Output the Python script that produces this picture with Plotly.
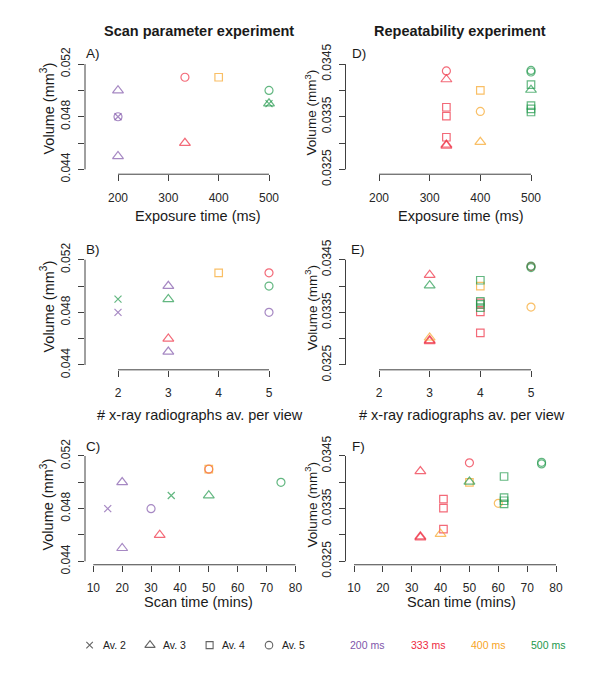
import plotly.graph_objects as go

# ---------------- data: scan parameter experiment ----------------
scan_exposure = [200, 200, 200, 200, 333, 333, 400, 500, 500, 500]
scan_averages = [2, 3, 3, 5, 3, 5, 4, 2, 3, 5]
scan_time = [15, 20, 20, 30, 33, 50, 50, 37, 50, 75]
scan_volume = [0.048, 0.050, 0.045, 0.048, 0.046, 0.051, 0.051, 0.049, 0.049, 0.050]

# ---------------- data: repeatability experiment ----------------
rep_exposure = [333, 333, 333, 333, 333, 333, 333, 400, 400, 400,
                500, 500, 500, 500, 500, 500, 500]
rep_averages = [3, 3, 3, 4, 4, 4, 5, 3, 4, 5,
                3, 4, 4, 4, 4, 5, 5]
rep_time = [33, 33, 33, 41, 41, 41, 50, 40, 50, 60,
            50, 62, 62, 62, 62, 75, 75]
rep_volume = [0.03421, 0.03297, 0.03295, 0.03368, 0.03351, 0.03311, 0.03437,
              0.03302, 0.03400, 0.03360,
              0.03401, 0.03411, 0.03371, 0.03365, 0.03359, 0.03438, 0.03435]

# ---------------- tick labels ----------------
exposure_ticks = [200, 300, 400, 500]
averages_ticks = [2, 3, 4, 5]
time_ticks = [10, 20, 30, 40, 50, 60, 70, 80]
scan_vol_ticks = [0.044, 0.046, 0.048, 0.050, 0.052]
scan_vol_text = ["0.044", "", "0.048", "", "0.052"]
rep_vol_ticks = [0.0325, 0.0330, 0.0335, 0.0340, 0.0345]
rep_vol_text = ["0.0325", "", "0.0335", "", "0.0345"]

legend_av_labels = ["Av. 2", "Av. 3", "Av. 4", "Av. 5"]
legend_av_values = [2, 3, 4, 5]
legend_ms_labels = ["200 ms", "333 ms", "400 ms", "500 ms"]
legend_ms_values = [200, 333, 400, 500]

# ---------------- styles ----------------
COLORS = {200: "#8056AA", 333: "#EE2B3E", 400: "#F7A425", 500: "#21984B"}
SYMBOLS = {2: "x-thin-open", 3: "triangle-up-open", 4: "square-open", 5: "circle-open"}
SIZES = {2: 7, 3: 9.5, 4: 7.5, 5: 8}
FONT = "Liberation Sans, Arial, sans-serif"
AXC = "#404040"

W, H = 600, 676


def fx(p):
    return p / W


def fy(p):
    return 1 - p / H


def extend(v0, v1, p0, p1, d0, d1):
    """values at pixel positions d0, d1 given v0<->p0 and v1<->p1"""
    s = (v1 - v0) / (p1 - p0)
    return [v0 + (d0 - p0) * s, v0 + (d1 - p0) * s]


fig = go.Figure()

# pixel layout: xd = pixels of first/last x tick, yd = pixels of top/bottom y tick,
# yl = x pixel of the y-axis line, xl = y pixel of the x-axis line
panel_defs = [
    dict(n=1, x=scan_exposure, y=scan_volume, e=scan_exposure, a=scan_averages,
         xt=exposure_ticks, yt=scan_vol_ticks, ytt=scan_vol_text,
         xd=(118, 269), yd=(56, 165), yl=85, xl=170),
    dict(n=2, x=scan_averages, y=scan_volume, e=scan_exposure, a=scan_averages,
         xt=averages_ticks, yt=scan_vol_ticks, ytt=scan_vol_text,
         xd=(118, 269), yd=(258.5, 367.5), yl=85, xl=372.5),
    dict(n=3, x=scan_time, y=scan_volume, e=scan_exposure, a=scan_averages,
         xt=time_ticks, yt=scan_vol_ticks, ytt=scan_vol_text,
         xd=(93.3, 295.4), yd=(461.7, 570.7), yl=85, xl=574.3),
    dict(n=4, x=rep_exposure, y=rep_volume, e=rep_exposure, a=rep_averages,
         xt=exposure_ticks, yt=rep_vol_ticks, ytt=rep_vol_text,
         xd=(379, 531), yd=(56, 165), yl=345.5, xl=170),
    dict(n=5, x=rep_averages, y=rep_volume, e=rep_exposure, a=rep_averages,
         xt=averages_ticks, yt=rep_vol_ticks, ytt=rep_vol_text,
         xd=(379, 531), yd=(258.5, 367.5), yl=345.5, xl=372.5),
    dict(n=6, x=rep_time, y=rep_volume, e=rep_exposure, a=rep_averages,
         xt=time_ticks, yt=rep_vol_ticks, ytt=rep_vol_text,
         xd=(354, 556), yd=(461.7, 570.7), yl=345.5, xl=574.3),
]

axis_common = dict(
    showline=False, ticks="outside", ticklen=6,
    tickwidth=1, tickcolor=AXC, showgrid=False, zeroline=False,
    tickfont=dict(family=FONT, size=12, color="#262626"), fixedrange=True,
)

layout_axes = {}
shapes = []
for p in panel_defs:
    n = p["n"]
    xa = "x" if n == 1 else f"x{n}"
    ya = "y" if n == 1 else f"y{n}"
    xkey = "xaxis" if n == 1 else f"xaxis{n}"
    ykey = "yaxis" if n == 1 else f"yaxis{n}"
    xt, yt = p["xt"], p["yt"]
    y_major = [t for t, s in zip(yt, p["ytt"]) if s]
    y_major_text = [s for s in p["ytt"] if s]
    y_minor = [t for t, s in zip(yt, p["ytt"]) if not s]
    # plot area: left at y-axis line, bottom at x-axis line
    dom_l, dom_r = p["yl"], p["xd"][1] + 10
    dom_t, dom_b = p["yd"][0] - 10, p["xl"]
    xrange_ = extend(xt[0], xt[-1], p["xd"][0], p["xd"][1], dom_l, dom_r)
    # y pixels grow downward: top tick (yt[-1]) at yd[0], bottom tick (yt[0]) at yd[1]
    yb, ytop = extend(yt[0], yt[-1], p["yd"][1], p["yd"][0], dom_b, dom_t)
    fig.add_trace(go.Scatter(
        x=p["x"], y=p["y"], mode="markers", xaxis=xa, yaxis=ya, showlegend=False,
        cliponaxis=False, hoverinfo="skip",
        marker=dict(
            symbol=[SYMBOLS[a] for a in p["a"]],
            size=[SIZES[a] for a in p["a"]],
            color=[COLORS[e] for e in p["e"]],
            line=dict(width=1.2, color=[COLORS[e] for e in p["e"]]),
        ),
    ))
    layout_axes[xkey] = dict(
        axis_common, domain=[fx(dom_l), fx(dom_r)], range=xrange_,
        tickmode="array", tickvals=xt, anchor=ya, ticklabelstandoff=6,
    )
    layout_axes[ykey] = dict(
        axis_common, domain=[fy(dom_b), fy(dom_t)], range=[yb, ytop],
        tickmode="array", tickvals=y_major, ticktext=y_major_text, tickangle=-90,
        anchor=xa, ticklabelstandoff=3,
        minor=dict(tickmode="array", tickvals=y_minor, ticks="outside", ticklen=6,
                   tickwidth=1, tickcolor=AXC, showgrid=False),
    )
    # axis lines spanning only the tick range (R style)
    shapes.append(dict(type="line", xref=xa, yref=f"{ya} domain", x0=xt[0], x1=xt[-1],
                       y0=0, y1=0, line=dict(color=AXC, width=1)))
    shapes.append(dict(type="line", xref=f"{xa} domain", yref=ya, x0=0, x1=0,
                       y0=yt[0], y1=yt[-1], line=dict(color=AXC, width=1)))

# legend glyphs on a hidden full-page axis
legend_sym_x = [89.6, 150, 209.6, 269]
legend_txt_x = [100.5, 161, 220, 280]
legend_ms_x = [367, 427.5, 487.5, 547.5]
legend_y = 657.5
fig.add_trace(go.Scatter(
    x=legend_sym_x, y=[legend_y] * 4, mode="markers", xaxis="x7", yaxis="y7",
    showlegend=False, hoverinfo="skip", cliponaxis=False,
    marker=dict(symbol=[SYMBOLS[a] for a in legend_av_values],
                size=[SIZES[a] - 0.5 for a in legend_av_values], color="#222",
                line=dict(width=1.1, color="#222")),
))
layout_axes["xaxis7"] = dict(domain=[0, 1], range=[0, W], visible=False,
                             fixedrange=True, anchor="y7")
layout_axes["yaxis7"] = dict(domain=[0, 1], range=[H, 0], visible=False,
                             fixedrange=True, anchor="x7")

annotations = []


def text(x, y, s, size=14.5, bold=False, angle=0, color="#1a1a1a", xanchor="center"):
    annotations.append(dict(
        x=fx(x), y=fy(y), xref="paper", yref="paper", text=f"<b>{s}</b>" if bold else s,
        showarrow=False, textangle=angle, xanchor=xanchor, yanchor="middle",
        font=dict(family=FONT, size=size, color=color),
    ))


# column titles
text(199, 22, "Scan parameter experiment", size=14.5, bold=True)
text(460, 22, "Repeatability experiment", size=14.5, bold=True)

# panel letters
for lab, x, y in [("A)", 93, 45), ("B)", 93, 248), ("C)", 93, 452),
                  ("D)", 359, 45), ("E)", 358, 248), ("F)", 358, 452)]:
    text(x, y, lab, size=13.5)

# x titles
text(198, 213, "Exposure time (ms)")
text(461, 213, "Exposure time (ms)")
text(200, 419, "# x-ray radiographs av. per view")
text(461.5, 419, "# x-ray radiographs av. per view")
text(198.5, 613, "Scan time (mins)")
text(461.5, 613, "Scan time (mins)")

# y titles
for y in [102, 307, 512]:
    text(47, y, "Volume (mm<sup>3</sup>)", size=14.5, angle=-90)
for y in [106, 308, 512]:
    text(311, y, "Volume (mm<sup>3</sup>)", size=13.5, angle=-90)

# legend texts
for lab, x in zip(legend_av_labels, legend_txt_x):
    text(x, legend_y, lab, size=10.5, color="#222", xanchor="left")
for lab, v, x in zip(legend_ms_labels, legend_ms_values, legend_ms_x):
    text(x, legend_y, lab, size=10.5, color=COLORS[v])

fig.update_layout(
    width=W, height=H, margin=dict(l=0, r=0, t=0, b=0),
    paper_bgcolor="white", plot_bgcolor="rgba(0,0,0,0)",
    annotations=annotations, shapes=shapes, showlegend=False,
    **layout_axes,
)

fig.write_html("out.html", post_script="document.body.style.margin='0px';")
